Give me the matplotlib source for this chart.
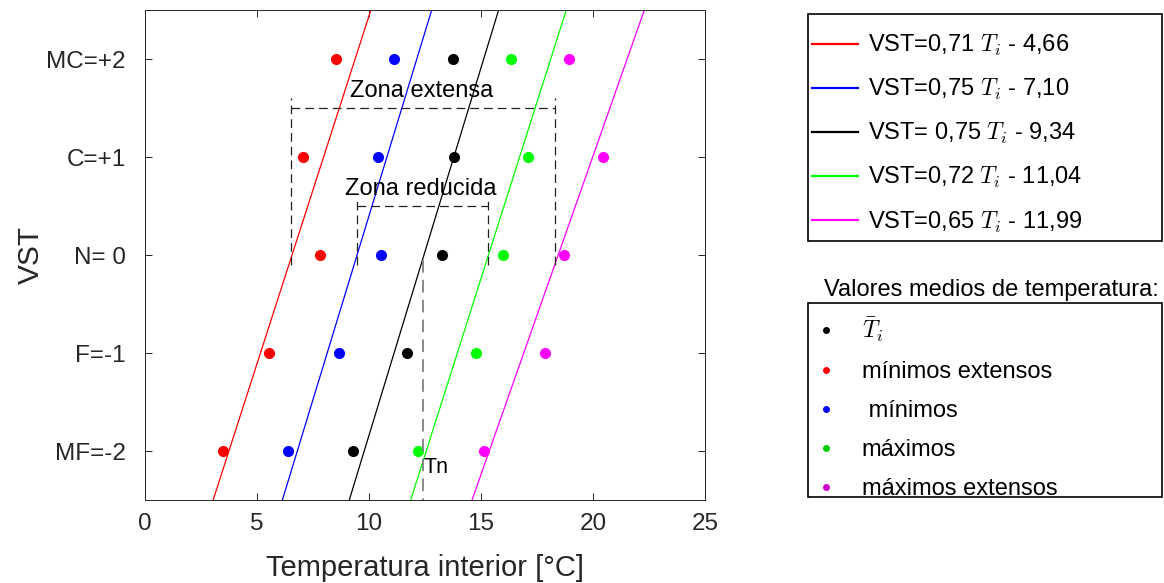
import numpy as np
import matplotlib
matplotlib.use("Agg")
import matplotlib.pyplot as plt
from matplotlib.lines import Line2D
from matplotlib.patches import Rectangle

plt.rcParams['font.family'] = ['Liberation Sans', 'DejaVu Sans']
plt.rcParams['mathtext.fontset'] = 'cm'

# Sensacion termica (VST) levels
vst_levels = [2, 1, 0, -1, -2]
vst_ticklabels = ["MC=+2", "C=+1", "N= 0", "F=-1", "MF=-2"]

# Mean interior temperatures per level (order: MC, C, N, F, MF)
t_min_ext = [8.53, 7.05, 7.81, 5.54, 3.48]
t_min = [11.12, 10.40, 10.54, 8.66, 6.38]
t_mean = [13.75, 13.80, 13.26, 11.70, 9.29]
t_max = [16.34, 17.10, 15.98, 14.78, 12.19]
t_max_ext = [18.93, 20.45, 18.70, 17.86, 15.13]

# Regression lines VST = a*Ti + b
slopes = [0.71, 0.75, 0.75, 0.72, 0.65]
intercepts = [-4.66, -7.10, -9.34, -11.04, -11.99]
line_labels = [
    r"VST=0,71 $T_i$ - 4,66",
    r"VST=0,75 $T_i$ - 7,10",
    r"VST= 0,75 $T_i$ - 9,34",
    r"VST=0,72 $T_i$ - 11,04",
    r"VST=0,65 $T_i$ - 11,99",
]
line_colors = ['#ff0000', '#0000ff', '#000000', '#00ff00', '#ff00ff']

# Comfort zones (temperature limits) and neutral temperature
ext_lo, ext_hi = 6.52, 18.3
red_lo, red_hi = 9.45, 15.33
tn = 12.4

W, H = 1164, 583
fig = plt.figure(figsize=(W/100, H/100), dpi=100)
ax = fig.add_axes([145/W, 1-500/H, 560/W, 490/H])

vst_min, vst_max = -2.5, 2.5
handles = []
for a, b, c, lab in zip(slopes, intercepts, line_colors, line_labels):
    tt = np.array([(vst_min - b)/a, (vst_max - b)/a])
    h, = ax.plot(tt, a*tt + b, color=c, lw=0.9, label=lab)
    handles.append(h)

series = [t_min_ext, t_min, t_mean, t_max, t_max_ext]
for vals, c in zip(series, line_colors):
    ax.plot(vals, vst_levels, 'o', color=c, ms=8, mec='none')

# dashed boxes for the two zones
dash = (0, (7, 4))
zc = '#222222'
ax.plot([ext_lo, ext_lo], [-0.1, 1.6], ls=dash, color=zc, lw=0.9)
ax.plot([ext_hi, ext_hi], [-0.1, 1.6], ls=dash, color=zc, lw=0.9)
ax.plot([ext_lo, ext_hi], [1.5, 1.5], ls=dash, color=zc, lw=0.9)
ax.plot([red_lo, red_lo], [-0.1, 0.58], ls=dash, color=zc, lw=0.9)
ax.plot([red_hi, red_hi], [-0.1, 0.58], ls=dash, color=zc, lw=0.9)
ax.plot([red_lo, red_hi], [0.5, 0.5], ls=dash, color=zc, lw=0.9)
ax.plot([tn, tn], [-0.05, vst_min], ls=dash, color='#808080', lw=1.3)

ax.text(12.35, 1.67, "Zona extensa", fontsize=17, ha='center', va='center')
ax.text(12.3, 0.67, "Zona reducida", fontsize=17, ha='center', va='center')
ax.text(13.0, -2.17, "Tn", fontsize=15.5, ha='center', va='center')

ax.set_xlim(0, 25)
ax.set_ylim(vst_min, vst_max)
ax.set_xticks([0, 5, 10, 15, 20, 25])
ax.set_yticks(vst_levels)
ax.set_yticklabels(vst_ticklabels)
gray = '#262626'
ax.tick_params(direction='in', length=5, width=0.7, top=True, right=True,
               labelsize=17.5, colors=gray)
ax.tick_params(axis='y', pad=14)
ax.tick_params(axis='x', pad=9)
for s in ax.spines.values():
    s.set_color(gray)
    s.set_linewidth(0.7)
ax.set_xlabel("Temperatura interior [°C]", fontsize=21, color=gray, labelpad=14)
ax.set_ylabel("VST", fontsize=21.5, color=gray, labelpad=1)

# legend frames drawn separately so the content can sit anywhere inside
for y0, y1 in [(14, 241), (303, 497)]:
    fig.patches.append(Rectangle((808/W, 1-y1/H), 354/W, (y1-y0)/H,
                                 transform=fig.transFigure, fill=False,
                                 ec='black', lw=1.2))

# legend for the regression lines
leg1 = fig.legend(handles=handles, loc='upper left',
                  bbox_to_anchor=(812/W, 1-33/H), frameon=False,
                  fontsize=17, handlelength=1.95, handletextpad=0.42,
                  labelspacing=0.81, borderpad=0, borderaxespad=0)
for ln in leg1.get_lines():
    ln.set_linewidth(1.6)

# legend for the mean temperature markers
marker_labels = [r"$\bar{T}_i$", "mínimos extensos", " mínimos",
                 "máximos", "máximos extensos"]
marker_colors = ['#000000', '#ff0000', '#0000ff', '#00cc00', '#cc00cc']
mk = [Line2D([], [], ls='none', marker='o', ms=5, color=c, mec='none')
      for c in marker_colors]
leg2 = fig.legend(handles=mk, labels=marker_labels, loc='upper left',
                  bbox_to_anchor=(812/W, 1-315/H), frameon=False,
                  fontsize=17, handlelength=1.2, handletextpad=0.9,
                  labelspacing=0.72, borderpad=0, borderaxespad=0)
fig.text(824/W, 1-290/H, "Valores medios de temperatura:", fontsize=17,
         ha='left', va='center')

fig.savefig("out.png", dpi=100)
